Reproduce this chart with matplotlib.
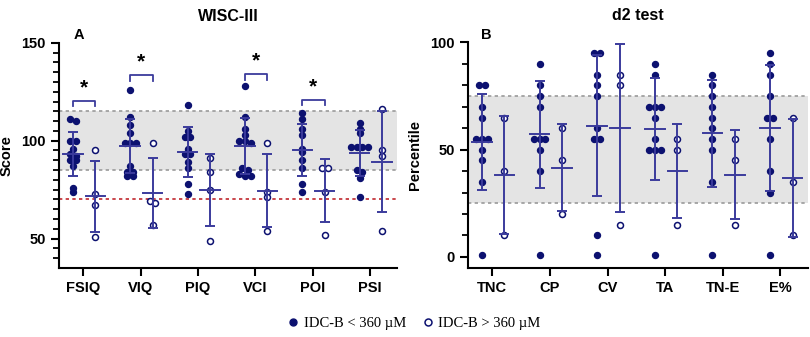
import numpy as np
import matplotlib
matplotlib.use("Agg")
import matplotlib.pyplot as plt
from matplotlib.lines import Line2D

# WISC-III (panel A)
wisc_cats = ["FSIQ", "VIQ", "PIQ", "VCI", "POI", "PSI"]
wisc_low = [
    [111, 110, 100, 100, 96, 93, 92, 90, 90, 87, 76, 74],
    [126, 112, 108, 104, 99, 99, 99, 87, 84, 84, 82, 82],
    [118, 105, 102, 102, 96, 93, 93, 89, 86, 78, 73],
    [128, 112, 106, 103, 100, 100, 99, 86, 85, 83, 82, 82],
    [114, 111, 106, 103, 96, 94, 90, 86, 78, 74],
    [109, 106, 104, 97, 97, 97, 97, 85, 84, 81, 71],
]
wisc_high = [
    [95, 73, 67, 51],
    [99, 69, 68, 57],
    [91, 84, 75, 49],
    [99, 74, 71, 54],
    [86, 86, 74, 52],
    [116, 95, 92, 54],
]
# significance brackets: (category index, bracket height, star height)
wisc_sig = [(0, 120.5, 127), (1, 133.5, 140.5), (3, 134, 141), (4, 121, 127.5)]

# d2 test (panel B)
d2_cats = ["TNC", "CP", "CV", "TA", "TN-E", "E%"]
d2_low = [
    [80, 80, 70, 65, 55, 55, 55, 50, 45, 35, 1],
    [90, 80, 75, 70, 55, 55, 55, 50, 40, 1],
    [95, 95, 85, 80, 75, 60, 55, 55, 10, 1],
    [90, 85, 70, 70, 70, 65, 55, 50, 50, 50, 1],
    [85, 80, 75, 70, 65, 60, 55, 50, 35, 1],
    [95, 90, 85, 75, 65, 65, 55, 40, 30, 1],
]
d2_high = [
    [65, 40, 10],
    [60, 45, 20],
    [85, 80, 15],
    [55, 50, 15],
    [55, 45, 15],
    [65, 35, 10],
]

dot_col = "#0c1170"
bar_col = "#3b3b9c"
off_low = -0.18
off_high = 0.21


def swarm(vals, tol, step):
    # spread points with (nearly) equal values side by side
    vals = np.asarray(vals, float)
    offs = np.zeros(len(vals))
    used = np.zeros(len(vals), bool)
    for i in range(len(vals)):
        if used[i]:
            continue
        grp = [j for j in range(len(vals)) if not used[j] and abs(vals[j] - vals[i]) <= tol]
        for k, j in enumerate(grp):
            offs[j] = (k - (len(grp) - 1) / 2) * step
            used[j] = True
    return offs


def draw_group(ax, x, vals, filled, tol):
    vals = np.asarray(vals, float)
    xs = x + swarm(vals, tol, 0.1)
    if filled:
        ax.plot(xs, vals, "o", ms=4.3, color=dot_col, mec=dot_col, zorder=3, clip_on=False)
    else:
        ax.plot(xs, vals, "o", ms=4.3, mfc="white", mec=dot_col, mew=1.1, zorder=3, clip_on=False)
    m = vals.mean()
    sd = vals.std(ddof=1)
    ax.errorbar([x], [m], yerr=[sd], fmt="none", ecolor=bar_col, elinewidth=1.4,
                capsize=3.5, capthick=1.4, zorder=4)
    ax.plot([x - 0.17, x + 0.17], [m, m], color=bar_col, lw=1.4, zorder=4)


def style_axes(ax, cats):
    for s in ["top", "right"]:
        ax.spines[s].set_visible(False)
    for s in ["left", "bottom"]:
        ax.spines[s].set_linewidth(1.5)
    ax.set_xticks(range(len(cats)))
    ax.set_xticklabels(cats, fontweight="bold", fontsize=10.5)
    ax.tick_params(axis="both", which="major", length=6, width=1.5, labelsize=10.5)
    ax.tick_params(axis="y", which="minor", length=4, width=1.3)
    for lab in ax.get_yticklabels():
        lab.set_fontweight("bold")
    ax.set_xlim(-0.42, len(cats) - 0.53)


plt.rcParams["font.family"] = ["Liberation Sans", "DejaVu Sans"]
fig = plt.figure(figsize=(8.1, 3.37), dpi=100)
axA = fig.add_axes([0.073, 0.205, 0.417, 0.668])
axB = fig.add_axes([0.578, 0.206, 0.419, 0.668])

# panel A
axA.axhspan(85, 115, color="#e4e4e4", zorder=0, lw=0)
axA.axhline(85, color="#9a9a9a", ls=(0, (2, 2)), lw=1.2, zorder=1)
axA.axhline(115, color="#9a9a9a", ls=(0, (2, 2)), lw=1.2, zorder=1)
axA.axhline(70, color="#c0282d", ls=(0, (2, 2)), lw=1.2, zorder=1)
for i in range(len(wisc_cats)):
    draw_group(axA, i + off_low, wisc_low[i], True, 1.2)
    draw_group(axA, i + off_high, wisc_high[i], False, 1.2)
for i, yb, ys in wisc_sig:
    x0, x1 = i + off_low, i + off_high
    axA.plot([x0, x0, x1, x1], [yb - 3, yb, yb, yb - 3], color=bar_col, lw=1.3, clip_on=False)
    axA.text((x0 + x1) / 2, ys, "*", ha="center", va="center", fontsize=15, fontweight="bold")
axA.set_ylim(35, 150)
axA.set_yticks([50, 100, 150])
axA.set_yticks(np.arange(40, 150, 5), minor=True)
style_axes(axA, wisc_cats)
axA.set_ylabel("Score", fontweight="bold", fontsize=10.5, labelpad=6)
axA.set_title("WISC-III", fontweight="bold", fontsize=11.5, pad=16)
axA.text(-0.08, 154, "A", fontweight="bold", fontsize=10.5, ha="center", va="center")

# panel B
axB.axhspan(25, 75, color="#e4e4e4", zorder=0, lw=0)
axB.axhline(25, color="#9a9a9a", ls=(0, (2, 2)), lw=1.2, zorder=1)
axB.axhline(75, color="#9a9a9a", ls=(0, (2, 2)), lw=1.2, zorder=1)
for i in range(len(d2_cats)):
    draw_group(axB, i + off_low, d2_low[i], True, 0.5)
    draw_group(axB, i + off_high, d2_high[i], False, 0.5)
axB.set_ylim(-5, 100)
axB.set_yticks([0, 50, 100])
axB.set_yticks(np.arange(0, 101, 10), minor=True)
style_axes(axB, d2_cats)
axB.set_ylabel("Percentile", fontweight="bold", fontsize=10.5, labelpad=6)
axB.set_title("d2 test", fontweight="bold", fontsize=11.5, pad=16)
axB.text(-0.1, 103.5, "B", fontweight="bold", fontsize=10.5, ha="center", va="center")

handles = [
    Line2D([], [], ls="none", marker="o", ms=5, color=dot_col),
    Line2D([], [], ls="none", marker="o", ms=5, mfc="white", mec=dot_col, mew=1.1),
]
fig.legend(handles, ["IDC-B < 360 \u00b5M", "IDC-B > 360 \u00b5M"], loc="center",
           bbox_to_anchor=(0.51, 0.04), ncol=2, frameon=False, handletextpad=0.2,
           columnspacing=1.0, handlelength=1.0,
           prop={"family": ["Liberation Serif", "DejaVu Serif"], "size": 10.5})

fig.savefig("out.png", dpi=100)
